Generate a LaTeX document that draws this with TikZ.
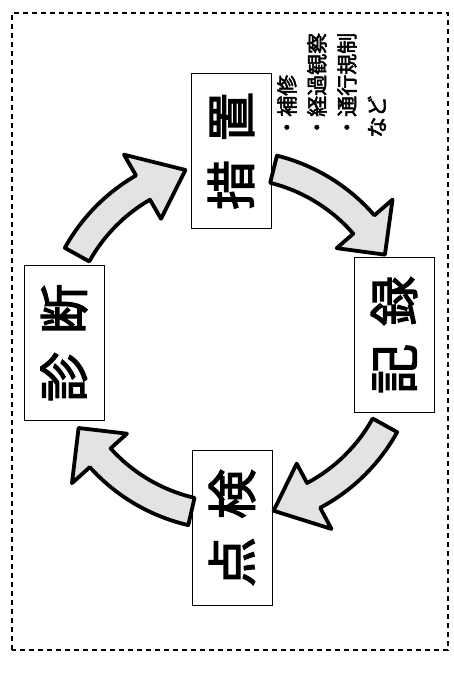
\documentclass[tikz,border=0pt]{standalone}
\usepackage{fontspec}
\newfontfamily\jpfont[AutoFakeBold=2.5]{Noto Sans CJK JP}
\usetikzlibrary{positioning}

\tikzset{
  stepbox/.style={draw,semithick,rotate=90,minimum width=155pt,
    minimum height=80pt,inner sep=0pt,
    font=\jpfont\bfseries\fontsize{50}{50}\selectfont},
  notetext/.style={rotate=90,anchor=north west,align=left,inner sep=0pt,
    font=\jpfont\bfseries\fontsize{21}{30}\selectfont},
  cyclearrow/.style={draw=black,line width=3.8pt,fill=gray!22,
    line join=round}
}
% curved block arrow: tail angle, head base angle, tip angle
\newcommand{\cyclearrow}[3]{%
  \draw[cyclearrow] (#1:190) arc[start angle=#1,end angle=#2,radius=190]
    -- (#2:214) -- (#3:176) -- (#2:140) -- (#2:162)
    arc[start angle=#2,end angle=#1,radius=162] -- cycle;}

\begin{document}
\begin{tikzpicture}[x=1pt,y=1pt]
  \useasboundingbox (0,0) rectangle (454,675);
  % outer frame
  \draw[line width=1.8pt,dash pattern=on 5pt off 4pt] (12,25) rectangle (448,662);
  \coordinate (c) at (231,335);
  % steps of the cycle
  \node[stepbox] (sochi)   at (231,524) {措\hspace{18pt}置};
  \node[stepbox] (kiroku)  at (394,340) {記\hspace{18pt}録};
  \node[stepbox] (tenken)  at (232,147) {点\hspace{18pt}検};
  \node[stepbox] (shindan) at (64,332)  {診\hspace{18pt}断};
  % notes beside 措置
  \node[notetext] (notes) at (277,537) {・補修\\・経過観察\\・通行規制\\など};
  % arrows round the circle
  \begin{scope}[shift={(c)}]
    \cyclearrow{76}{41}{29}
    \cyclearrow{-29}{-62}{-76}
    \cyclearrow{257}{222}{210}
    \cyclearrow{151}{120}{105}
  \end{scope}
\end{tikzpicture}
\end{document}
